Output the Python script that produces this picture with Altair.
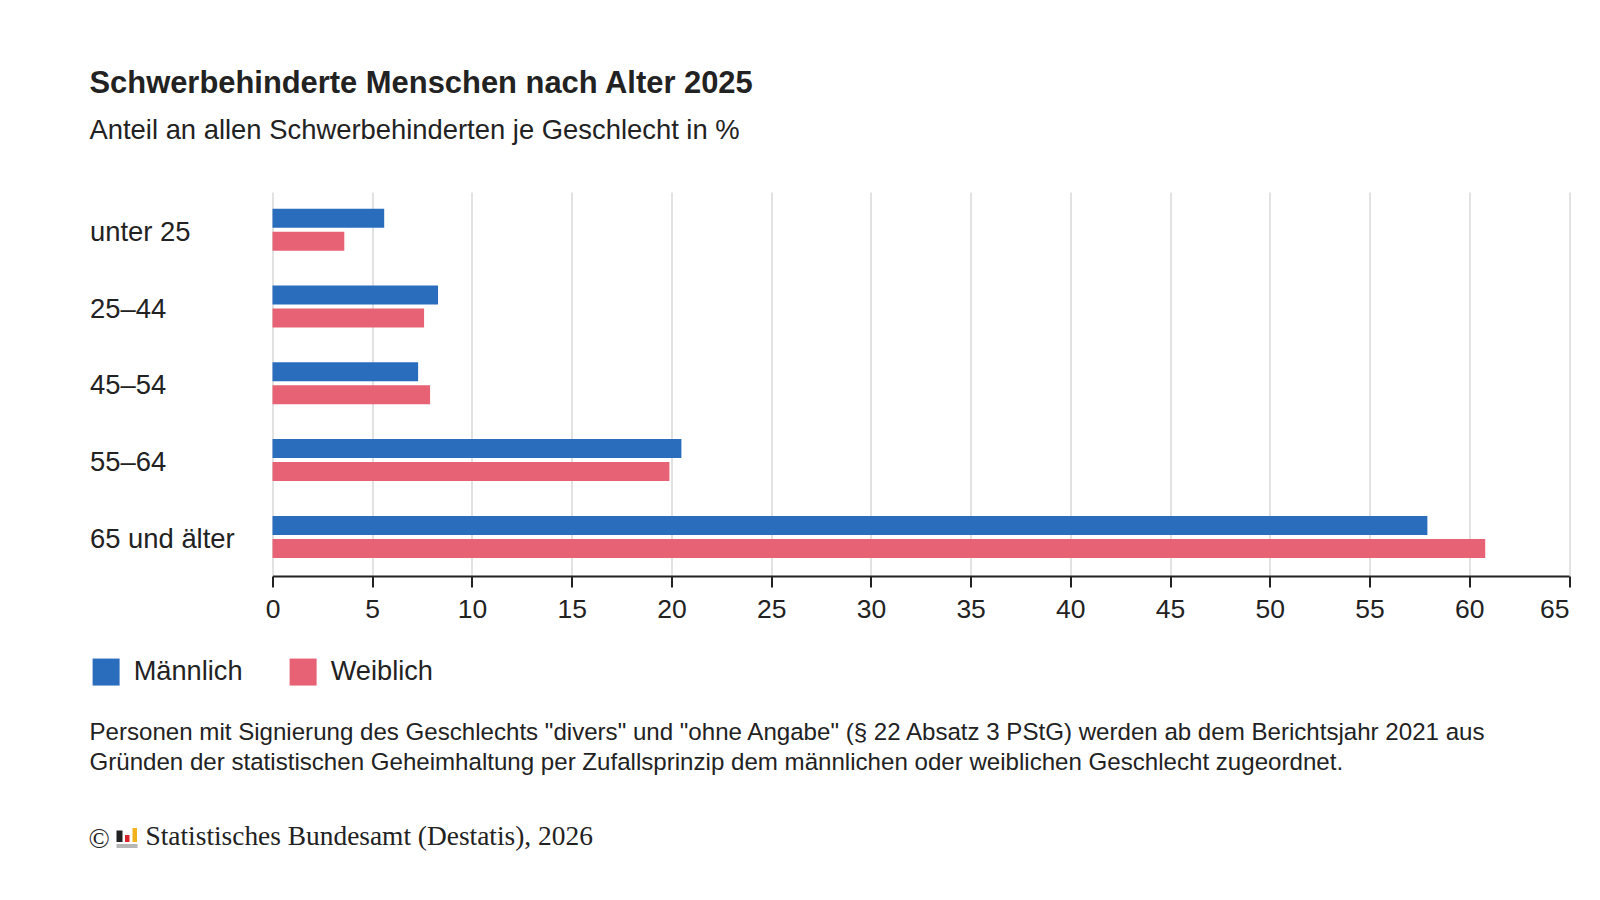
import altair as alt
import pandas as pd

ages = ["unter 25", "25–44", "45–54", "55–64", "65 und älter"]
maennlich = [5.6, 8.3, 7.3, 20.5, 57.9]
weiblich = [3.6, 7.6, 7.9, 19.9, 60.8]
genders = ["Männlich", "Weiblich"]
colors = ["#2a6dbd", "#e66274"]
x_ticks = list(range(0, 70, 5))

title = "Schwerbehinderte Menschen nach Alter 2025"
subtitle = "Anteil an allen Schwerbehinderten je Geschlecht in %"
note_lines = [
    'Personen mit Signierung des Geschlechts "divers" und "ohne Angabe" (§ 22 Absatz 3 PStG) werden ab dem Berichtsjahr 2021 aus',
    "Gründen der statistischen Geheimhaltung per Zufallsprinzip dem männlichen oder weiblichen Geschlecht zugeordnet.",
]
source = "Statistisches Bundesamt (Destatis), 2026"

rows = []
for a, m, w in zip(ages, maennlich, weiblich):
    rows.append({"age": a, "gender": genders[0], "value": m})
    rows.append({"age": a, "gender": genders[1], "value": w})
df = pd.DataFrame(rows)

FONT = "Liberation Sans"
INK = "#222222"

bars = alt.Chart(df).mark_bar().encode(
    x=alt.X(
        "value:Q",
        scale=alt.Scale(domain=[0, 65], nice=False),
        axis=alt.Axis(
            values=x_ticks,
            title=None,
            format="d",
            grid=True,
            gridColor="#e2e2e2",
            gridWidth=2,
            domainColor="#222222",
            domainWidth=2,
            tickColor="#222222",
            tickWidth=2,
            tickSize=11,
            labelFontSize=26.5,
            labelFont=FONT,
            labelColor=INK,
            labelPadding=9,
            labelAlign=alt.expr("datum.value === 65 ? 'right' : 'center'"),
            labelOverlap=False,
            labelBound=False,
            labelFlush=False,
        ),
    ),
    y=alt.Y(
        "age:N",
        sort=ages,
        scale=alt.Scale(paddingInner=0.453, paddingOuter=0.2265, align=0.48),
        axis=alt.Axis(
            title=None,
            domain=False,
            ticks=False,
            grid=False,
            labelAlign="left",
            labelPadding=183,
            labelFontSize=27.4,
            labelFont=FONT,
            labelColor=INK,
            labelOffset=3,
            labelLimit=300,
        ),
    ),
    yOffset=alt.YOffset("gender:N", sort=genders, scale=alt.Scale(paddingInner=0.174, paddingOuter=0)),
    color=alt.Color(
        "gender:N",
        sort=genders,
        scale=alt.Scale(domain=genders, range=colors),
        legend=alt.Legend(
            orient="none",
            legendX=-180,
            legendY=466,
            direction="horizontal",
            title=None,
            symbolType="square",
            symbolSize=729,
            symbolStrokeWidth=0,
            symbolOpacity=1,
            labelFontSize=27.2,
            labelFont=FONT,
            labelColor=INK,
            labelOffset=14,
            columnPadding=46,
            labelLimit=300,
        ),
    ),
)


def text_layer(text, x, y, size, font=FONT, weight="normal", color=INK):
    return alt.Chart(pd.DataFrame({"t": [text]})).mark_text(
        align="left", baseline="middle", font=font, fontSize=size, fontWeight=weight, color=color
    ).encode(text="t:N", x=alt.value(x), y=alt.value(y))


def rect_layer(x, x2, y, y2, color):
    return alt.Chart(pd.DataFrame({"k": [0]})).mark_rect(color=color).encode(
        x=alt.value(x), x2=alt.value(x2), y=alt.value(y), y2=alt.value(y2)
    )


layers = [
    bars,
    text_layer(note_lines[0], -183, 541, 24.1),
    text_layer(note_lines[1], -183, 570.5, 24.1),
    text_layer("©", -184, 648, 28, font="Liberation Serif"),
    rect_layer(-156, -150, 638.5, 650, "#222222"),
    rect_layer(-147.5, -143, 643, 650, "#d8232a"),
    rect_layer(-140, -135.5, 636, 650, "#f2b21c"),
    rect_layer(-156, -135, 652, 656, "#b5b5b5"),
    text_layer(source, -127, 645, 27.4, font="Liberation Serif"),
]

chart = alt.layer(*layers).properties(
    width=1296.5,
    height=384,
    padding={"left": 264.5, "top": 184, "right": 22, "bottom": 316},
    autosize=alt.AutoSizeParams(type="none"),
    title=alt.Title(
        text=title,
        subtitle=subtitle,
        anchor="start",
        frame="group",
        dx=-183,
        offset=47,
        font=FONT,
        fontSize=30.9,
        fontWeight="bold",
        color=INK,
        subtitleFont=FONT,
        subtitleFontSize=27.4,
        subtitleColor=INK,
        subtitlePadding=17,
    ),
).configure_view(stroke=None).configure_bar(stroke=None)

chart.save("out.html", embed_options={"renderer": "svg", "actions": False})
